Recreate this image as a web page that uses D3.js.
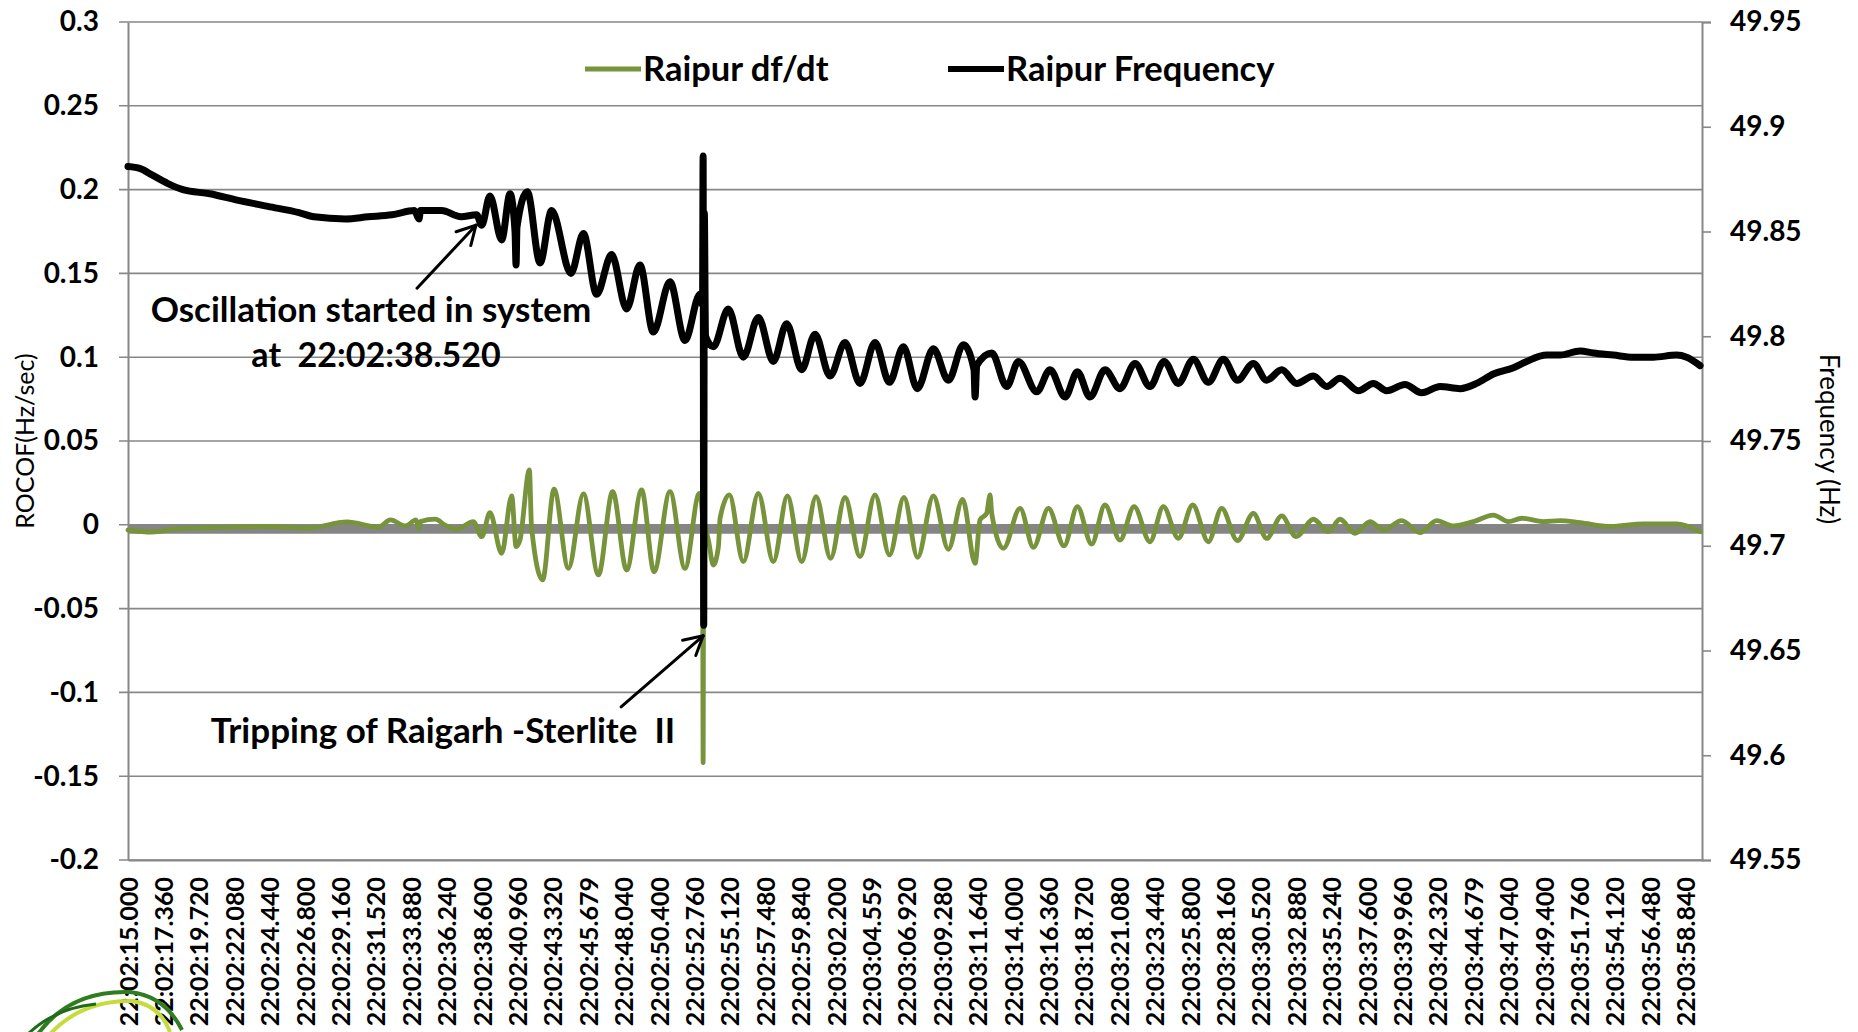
<!DOCTYPE html>
<html>
<head>
<meta charset="utf-8">
<script src="https://cdn.jsdelivr.net/npm/d3@7"></script>
<style>
  body { margin: 0; background: #fff; }
  text { font-family: Lato, "Open Sans", sans-serif; }
</style>
</head>
<body>
<svg id="chart" width="1858" height="1032"></svg>
<script>
// category labels shown on the time axis (every 59th sample)
var timeLabels = [
  '22:02:15.000', '22:02:17.360', '22:02:19.720', '22:02:22.080', '22:02:24.440',
  '22:02:26.800', '22:02:29.160', '22:02:31.520', '22:02:33.880', '22:02:36.240',
  '22:02:38.600', '22:02:40.960', '22:02:43.320', '22:02:45.679', '22:02:48.040',
  '22:02:50.400', '22:02:52.760', '22:02:55.120', '22:02:57.480', '22:02:59.840',
  '22:03:02.200', '22:03:04.559', '22:03:06.920', '22:03:09.280', '22:03:11.640',
  '22:03:14.000', '22:03:16.360', '22:03:18.720', '22:03:21.080', '22:03:23.440',
  '22:03:25.800', '22:03:28.160', '22:03:30.520', '22:03:32.880', '22:03:35.240',
  '22:03:37.600', '22:03:39.960', '22:03:42.320', '22:03:44.679', '22:03:47.040',
  '22:03:49.400', '22:03:51.760', '22:03:54.120', '22:03:56.480', '22:03:58.840'
];
var timeSpan = 104.93; // seconds after 22:02:15.000 covered by the record

var rocofTicks = [0.3, 0.25, 0.2, 0.15, 0.1, 0.05, 0, -0.05, -0.1, -0.15, -0.2];
var freqTicks = [49.95, 49.9, 49.85, 49.8, 49.75, 49.7, 49.65, 49.6, 49.55];

var seriesNames = ['Raipur df/dt', 'Raipur Frequency'];

// [seconds after 22:02:15, Hz/sec]
var rocofSeries = [
  [0, -0.0031], [1.6, -0.0043], [3.2, -0.0024], [4.7, -0.0019], [6.8, -0.0014],
  [9.4, -0.001], [12.0, -0.0019], [14.6, 0.0017], [16.7, -0.0014], [17.5, 0.0029],
  [18.5, -0.0007], [19.2, 0.0029], [19.4, -0.0024], [19.5, 0.002], [20.5, 0.0034],
  [21.1, 0.0], [21.9, -0.0027], [23.02, 0.0019], [23.58, -0.0071], [24.13, 0.0072],
  [24.91, -0.017], [25.58, 0.0172], [25.87, -0.013], [26.13, -0.0091], [26.76, 0.0327],
  [26.9, -0.0011], [27.64, -0.0329], [28.4, 0.0212], [29.36, -0.026], [30.36, 0.0184],
  [31.36, -0.0299], [32.31, 0.0198], [33.24, -0.027], [34.24, 0.0208], [35.07, -0.028],
  [36.13, 0.0198], [37.13, -0.026], [38.09, 0.0188], [38.3, 0.005], [38.34, -0.1419],
  [38.38, 0.0], [38.69, -0.0091], [39.02, -0.024], [39.36, -0.013], [39.47, 0.0039],
  [40.09, 0.0178], [41.02, -0.022], [42.02, 0.0188], [43.02, -0.022], [43.96, 0.0172],
  [44.91, -0.022], [45.87, 0.0168], [46.84, -0.02], [47.8, 0.0163], [48.8, -0.019],
  [49.8, 0.0178], [50.76, -0.018], [51.73, 0.0164], [52.64, -0.0194], [53.69, 0.0172],
  [54.69, -0.0146], [55.64, 0.0152], [56.47, -0.023], [56.8, 0.0029], [57.24, 0.0068],
  [57.47, 0.0178], [57.58, 0.0068], [58.36, -0.014], [59.47, 0.0098], [60.36, -0.0134],
  [61.36, 0.0098], [62.4, -0.0126], [63.29, 0.0108], [64.24, -0.0115], [65.13, 0.0118],
  [66.13, -0.0091], [67.07, 0.0108], [68.13, -0.0101], [69.02, 0.0108], [70.02, -0.0081],
  [70.98, 0.0118], [72.02, -0.0101], [72.91, 0.0098], [73.96, -0.0095], [75.02, 0.0068],
  [75.91, -0.0081], [76.91, 0.0053], [77.87, -0.0071], [79.02, 0.0033], [80.02, -0.0041],
  [80.8, 0.0033], [81.8, -0.0051], [82.8, 0.0019], [83.69, -0.0031], [84.91, 0.0025],
  [86.13, -0.0047], [87.24, 0.0025], [88.36, -0.0007], [89.69, 0.0019], [91.02, 0.0058],
  [92.02, 0.0019], [92.91, 0.0039], [94.36, 0.0019], [95.47, 0.0025], [96.8, 0.0013],
  [98.8, -0.001], [101.02, 0.0006], [103.24, 0.0006], [104.8, -0.0041]
];

// [seconds after 22:02:15, Hz]
var freqSeries = [
  [0, 49.881], [0.82, 49.880], [1.6, 49.877], [2.63, 49.873], [3.66, 49.870],
  [5.46, 49.868], [7.27, 49.865], [9.33, 49.862], [11.4, 49.859], [12.4, 49.857],
  [14.5, 49.856], [16.0, 49.857], [17.6, 49.858], [19.1, 49.860], [19.4, 49.856],
  [19.5, 49.860], [20.9, 49.860], [22.2, 49.857], [23.24, 49.858], [23.58, 49.853],
  [24.13, 49.867], [24.91, 49.846], [25.47, 49.868], [25.8, 49.850], [25.87, 49.834],
  [25.93, 49.852], [26.62, 49.869], [27.47, 49.835], [28.24, 49.860], [29.53, 49.830],
  [30.36, 49.849], [31.24, 49.820], [32.24, 49.839], [33.24, 49.813], [34.13, 49.834],
  [35.02, 49.802], [36.13, 49.826], [37.13, 49.798], [38.13, 49.820], [38.3, 49.815],
  [38.34, 49.886], [38.38, 49.662], [38.42, 49.859], [38.5, 49.800], [39.02, 49.795],
  [40.02, 49.813], [41.02, 49.790], [42.02, 49.809], [43.02, 49.788], [43.91, 49.806],
  [44.91, 49.784], [45.8, 49.801], [46.8, 49.781], [47.8, 49.797], [48.8, 49.7775],
  [49.8, 49.797], [50.76, 49.778], [51.69, 49.795], [52.62, 49.775], [53.69, 49.794],
  [54.69, 49.779], [55.69, 49.796], [56.4, 49.784], [56.47, 49.771], [56.58, 49.786],
  [57.58, 49.792], [58.58, 49.776], [59.36, 49.788], [60.58, 49.7735], [61.47, 49.784],
  [62.47, 49.771], [63.29, 49.783], [64.13, 49.771], [65.13, 49.784], [66.13, 49.775],
  [67.13, 49.787], [68.13, 49.776], [69.07, 49.788], [70.02, 49.7775], [71.02, 49.789],
  [72.02, 49.778], [73.02, 49.789], [73.96, 49.779], [75.02, 49.787], [75.91, 49.779],
  [76.91, 49.784], [77.91, 49.7775], [79.02, 49.781], [79.91, 49.776], [80.8, 49.780],
  [82.02, 49.774], [83.02, 49.7775], [83.91, 49.774], [85.13, 49.777], [86.24, 49.773],
  [87.47, 49.776], [88.8, 49.775], [89.91, 49.7775], [91.02, 49.782], [92.36, 49.785],
  [93.24, 49.788], [94.58, 49.791], [95.47, 49.791], [96.8, 49.793], [97.69, 49.792],
  [99.02, 49.791], [100.36, 49.790], [101.69, 49.790], [103.24, 49.791], [103.91, 49.790],
  [104.8, 49.786]
];

// annotated events: [seconds, Hz] where the arrows point
var oscStart = [23.2, 49.853];
var tripPoint = [38.34, 49.657];

var svg = d3.select('#chart');
var plotLeft = 128, plotRight = 1702, plotTop = 22, plotBottom = 860;
var gridColor = '#878787';

var x = d3.scaleLinear().domain([0, timeSpan]).range([plotLeft, plotRight]);
var yL = d3.scaleLinear().domain([-0.2, 0.3]).range([plotBottom, plotTop]);
var yR = d3.scaleLinear().domain([49.55, 49.95]).range([plotBottom, plotTop]);

function toSeconds(s) {
  var p = s.split(':');
  return (+p[0]) * 3600 + (+p[1]) * 60 + (+p[2]);
}
var t0 = toSeconds(timeLabels[0]);
var labelSeconds = timeLabels.map(function(s) { return toSeconds(s) - t0; });

svg.append('rect').attr('width', 1858).attr('height', 1032).attr('fill', '#fff');

// horizontal gridlines (they poke out left of the axis like tick marks)
svg.append('g')
  .selectAll('line')
  .data(rocofTicks)
  .enter().append('line')
    .attr('x1', plotLeft - 9).attr('x2', plotRight)
    .attr('y1', function(d) { return yL(d); })
    .attr('y2', function(d) { return yL(d); })
    .attr('stroke', gridColor)
    .attr('stroke-width', 1.6);

// heavy grey zero band
svg.append('line')
  .attr('x1', plotLeft).attr('x2', plotRight)
  .attr('y1', yL(0) + 4.5).attr('y2', yL(0) + 4.5)
  .attr('stroke', '#858585')
  .attr('stroke-width', 9);

// axes
var axL = svg.append('g')
  .attr('transform', 'translate(' + plotLeft + ',0)')
  .call(d3.axisLeft(yL).tickValues(rocofTicks).tickSize(0).tickPadding(29)
    .tickFormat(function(d) { return String(d); }));

var axR = svg.append('g')
  .attr('transform', 'translate(' + plotRight + ',0)')
  .call(d3.axisRight(yR).tickValues(freqTicks).tickSize(9).tickPadding(19)
    .tickFormat(function(d) { return String(d); }));

var axB = svg.append('g')
  .attr('transform', 'translate(0,' + plotBottom + ')')
  .call(d3.axisBottom(x).tickValues(labelSeconds).tickSize(0)
    .tickFormat(function(d, i) { return timeLabels[i]; }));

[axL, axR, axB].forEach(function(a) {
  a.select('.domain').attr('stroke', gridColor).attr('stroke-width', 2);
  a.selectAll('.tick line').attr('stroke', gridColor).attr('stroke-width', 1.6);
  a.selectAll('text')
    .attr('fill', '#000')
    .style('font-size', '28px')
    .style('font-weight', 'bold');
});
axB.selectAll('.tick text')
  .style('font-size', '25px')
  .attr('transform', 'rotate(-90)')
  .attr('x', -17)
  .attr('y', 0)
  .attr('dy', '0.36em')
  .style('text-anchor', 'end');

// series: df/dt first, frequency on the secondary axis drawn above it
var lineL = d3.line()
  .x(function(d) { return x(d[0]); })
  .y(function(d) { return yL(d[1]); })
  .curve(d3.curveMonotoneX);
var lineR = d3.line()
  .x(function(d) { return x(d[0]); })
  .y(function(d) { return yR(d[1]); })
  .curve(d3.curveMonotoneX);

svg.append('path')
  .datum(rocofSeries)
  .attr('d', lineL)
  .attr('fill', 'none')
  .attr('stroke', '#77933c')
  .attr('stroke-width', 4.8)
  .attr('stroke-linejoin', 'round')
  .attr('stroke-linecap', 'round');

svg.append('path')
  .datum(freqSeries)
  .attr('d', lineR)
  .attr('fill', 'none')
  .attr('stroke', '#000')
  .attr('stroke-width', 7)
  .attr('stroke-linejoin', 'round')
  .attr('stroke-linecap', 'round');

// axis titles
svg.append('text')
  .attr('transform', 'translate(34,441) rotate(-90)')
  .attr('text-anchor', 'middle')
  .style('font-size', '25px')
  .text('ROCOF(Hz/sec)');
svg.append('text')
  .attr('transform', 'translate(1820,439) rotate(90)')
  .attr('text-anchor', 'middle')
  .style('font-size', '26px')
  .text('Frequency (Hz)');

// legend
var legend = svg.append('g');
var legendItems = [
  { name: seriesNames[0], color: '#77933c', width: 5, x: 585 },
  { name: seriesNames[1], color: '#000', width: 6, x: 948 }
];
legendItems.forEach(function(it) {
  legend.append('line')
    .attr('x1', it.x).attr('x2', it.x + 56)
    .attr('y1', 69).attr('y2', 69)
    .attr('stroke', it.color)
    .attr('stroke-width', it.width);
  legend.append('text')
    .attr('x', it.x + 58).attr('y', 81)
    .style('font-size', '34.5px')
    .style('font-weight', 'bold')
    .text(it.name);
});

// annotations
function arrow(x1, y1, x2, y2) {
  var g = svg.append('g').attr('stroke', '#000').attr('stroke-width', 3)
    .attr('stroke-linecap', 'round').attr('fill', 'none');
  g.append('line').attr('x1', x1).attr('y1', y1).attr('x2', x2).attr('y2', y2);
  var ang = Math.atan2(y2 - y1, x2 - x1);
  [-0.5, 0.5].forEach(function(da) {
    g.append('line')
      .attr('x1', x2).attr('y1', y2)
      .attr('x2', x2 - 21 * Math.cos(ang + da))
      .attr('y2', y2 - 21 * Math.sin(ang + da));
  });
}

var ox = x(oscStart[0]), oy = yR(oscStart[1]);
arrow(ox - 59, oy + 63, ox, oy);
svg.append('text')
  .attr('x', 371).attr('y', 322)
  .attr('text-anchor', 'middle')
  .style('font-size', '35px').style('font-weight', 'bold')
  .text('Oscillation started in system');
svg.append('text')
  .attr('x', 376).attr('y', 367)
  .attr('text-anchor', 'middle')
  .style('font-size', '34px').style('font-weight', 'bold')
  .style('white-space', 'pre')
  .text('at  22:02:38.520');

var tx = x(tripPoint[0]), ty = yR(tripPoint[1]);
arrow(tx - 82, ty + 71, tx, ty);
svg.append('text')
  .attr('x', 443).attr('y', 743)
  .attr('text-anchor', 'middle')
  .style('font-size', '35px').style('font-weight', 'bold')
  .style('white-space', 'pre')
  .text('Tripping of Raigarh -Sterlite  II');

// logo swooshes peeking in at the bottom-left corner
var logo = svg.append('g').attr('fill', 'none');
logo.append('path').attr('d', 'M38,1034 Q70,990 130,992 Q165,996 182,1030')
  .attr('stroke', '#2f7d1f').attr('stroke-width', 4);
logo.append('path').attr('d', 'M50,1034 Q82,1000 132,1001 Q160,1005 170,1032')
  .attr('stroke', '#c5dc3a').attr('stroke-width', 4);
logo.append('path').attr('d', 'M28,1034 Q55,1008 96,1004')
  .attr('stroke', '#1f6b1a').attr('stroke-width', 3);
</script>
</body>
</html>
